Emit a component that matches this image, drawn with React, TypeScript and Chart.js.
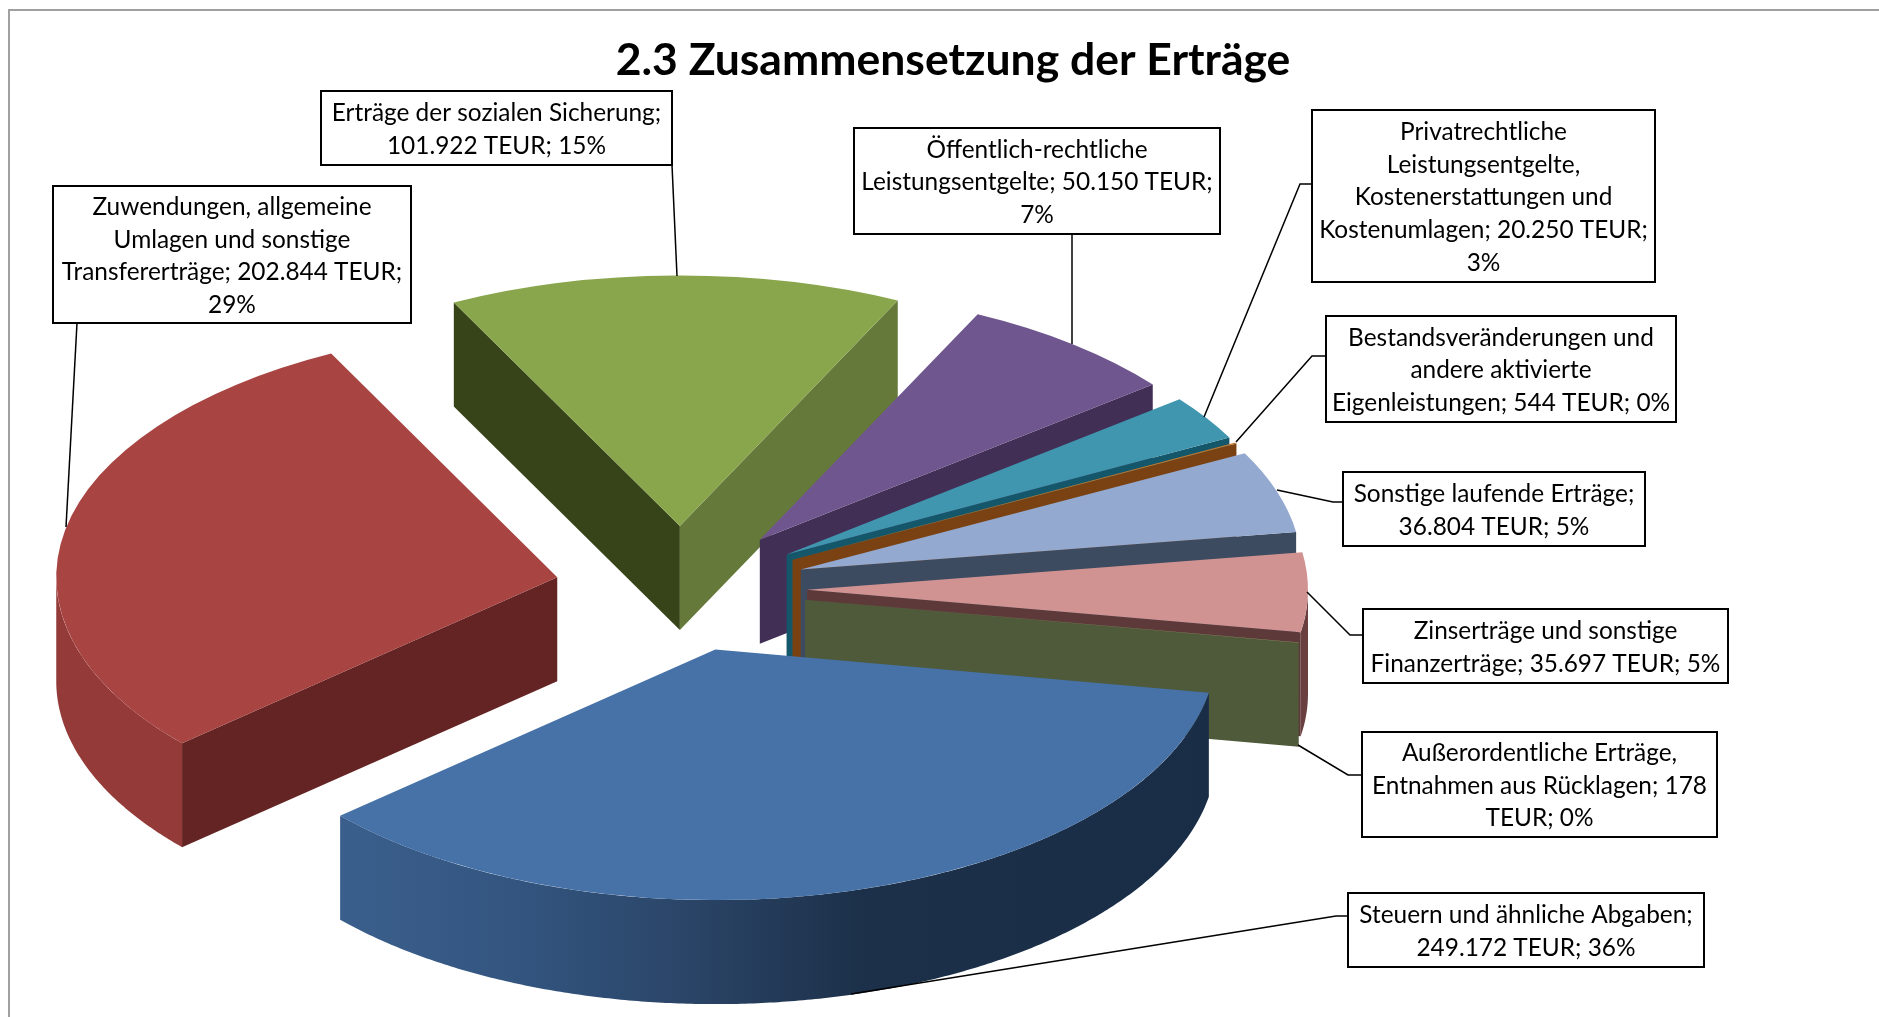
import React, { useEffect, useRef } from "react";
import { Chart, registerables } from "chart.js";

Chart.register(...registerables);

const TITLE = "2.3 Zusammensetzung der Erträge";
const categories = [
  "Steuern und ähnliche Abgaben",
  "Zuwendungen, allgemeine Umlagen und sonstige Transfererträge",
  "Erträge der sozialen Sicherung",
  "Öffentlich-rechtliche Leistungsentgelte",
  "Privatrechtliche Leistungsentgelte, Kostenerstattungen und Kostenumlagen",
  "Bestandsveränderungen und andere aktivierte Eigenleistungen",
  "Sonstige laufende Erträge",
  "Zinserträge und sonstige Finanzerträge",
  "Außerordentliche Erträge, Entnahmen aus Rücklagen",
];
const valuesTEUR = [249172, 202844, 101922, 50150, 20250, 544, 36804, 35697, 178];
const labelLines = [
  ["Steuern und ähnliche Abgaben;", "249.172 TEUR; 36%"],
  ["Zuwendungen, allgemeine", "Umlagen und sonstige", "Transfererträge; 202.844 TEUR;", "29%"],
  ["Erträge der sozialen Sicherung;", "101.922 TEUR; 15%"],
  ["Öffentlich-rechtliche", "Leistungsentgelte; 50.150 TEUR;", "7%"],
  ["Privatrechtliche", "Leistungsentgelte,", "Kostenerstattungen und", "Kostenumlagen; 20.250 TEUR;", "3%"],
  ["Bestandsveränderungen und", "andere aktivierte", "Eigenleistungen; 544 TEUR; 0%"],
  ["Sonstige laufende Erträge;", "36.804 TEUR; 5%"],
  ["Zinserträge und sonstige", "Finanzerträge; 35.697 TEUR; 5%"],
  ["Außerordentliche Erträge,", "Entnahmen aus Rücklagen; 178", "TEUR; 0%"],
];

const topColors = ["#4672a8", "#a84442", "#8aa64d", "#70568e", "#4095af", "#c07a30", "#93a9cf", "#d09392", "#a9c47f"];
const faceColors = ["#1a2d47", "#632423", "#374419", "#422f56", "#14566a", "#7a4213", "#3c4b60", "#5d3939", "#4e5a3a"];
const faceColorsRight: Record<number, string> = { 2: "#64793a" };
const wallStops: [number, string][][] = [
  [[0, "#3b5f8c"], [0.2, "#335580"], [0.41, "#2a4466"], [0.6, "#1c3049"], [1, "#1a2d47"]],
  [[0, "#943b39"], [1, "#943b39"]],
  [[0, "#64793a"], [1, "#64793a"]],
  [[0, "#422f56"], [1, "#422f56"]],
  [[0, "#14566a"], [1, "#14566a"]],
  [[0, "#7a4213"], [1, "#7a4213"]],
  [[0, "#3c4b60"], [1, "#3c4b60"]],
  [[0, "#6a3f3f"], [1, "#6a3f3f"]],
  [[0, "#5d3939"], [1, "#5d3939"]],
];

// layout of the tilted exploded pie
const PIE = { cx: 681, cy: 589, radius: 501, tilt: 0.5, depth: 104, explode: 126, firstAngle: 99.9 };
const paintOrder = [2, 3, 4, 5, 6, 7, 8, 1, 0];

// label boxes: x, y, w, h and leader line points
const boxes = [
  { x: 1348, y: 893, w: 356, h: 74, leader: [[1348, 916], [1336, 916], [851, 994]] },
  { x: 53, y: 186, w: 358, h: 137, leader: [[77, 323], [66, 527]] },
  { x: 321, y: 91, w: 351, h: 74, leader: [[672, 165], [677, 276]] },
  { x: 854, y: 128, w: 366, h: 106, leader: [[1072, 234], [1072, 344]] },
  { x: 1312, y: 110, w: 343, h: 172, leader: [[1312, 184], [1300, 184], [1204, 417]] },
  { x: 1326, y: 316, w: 350, h: 106, leader: [[1326, 356], [1312, 356], [1236, 442]] },
  { x: 1343, y: 472, w: 302, h: 74, leader: [[1343, 502], [1333, 502], [1277, 490]] },
  { x: 1363, y: 609, w: 365, h: 74, leader: [[1363, 635], [1350, 635], [1307, 592]] },
  { x: 1362, y: 732, w: 355, h: 105, leader: [[1362, 775], [1348, 775], [1298, 745]] },
];
const LABEL_FONT = "24.4px Lato";
const LINE_HEIGHT = 32.6;
const LABEL_SHIFT = 1.5;

function slicePoint(ax: number, ay: number, angle: number, dy = 0): [number, number] {
  return [ax + PIE.radius * Math.cos(angle), ay + PIE.radius * PIE.tilt * Math.sin(angle) + dy];
}

function fillFace(ctx: CanvasRenderingContext2D, ax: number, ay: number, angle: number, color: string) {
  const [rx, ry] = slicePoint(ax, ay, angle);
  ctx.beginPath();
  ctx.moveTo(ax, ay);
  ctx.lineTo(rx, ry);
  ctx.lineTo(rx, ry + PIE.depth);
  ctx.lineTo(ax, ay + PIE.depth);
  ctx.closePath();
  ctx.fillStyle = color;
  ctx.fill();
}

function fillWall(ctx: CanvasRenderingContext2D, ax: number, ay: number, a0: number, a1: number, stops: [number, string][]) {
  const steps = Math.max(4, Math.ceil((a1 - a0) * 120));
  const pts: [number, number][] = [];
  for (let s = 0; s <= steps; s++) pts.push(slicePoint(ax, ay, a0 + ((a1 - a0) * s) / steps));
  const xs = pts.map((p) => p[0]);
  const x0 = Math.min(...xs);
  const x1 = Math.max(...xs);
  const g = ctx.createLinearGradient(x0, 0, x1 === x0 ? x0 + 1 : x1, 0);
  stops.forEach(([o, c]) => g.addColorStop(o, c));
  ctx.beginPath();
  pts.forEach((p, i) => (i ? ctx.lineTo(p[0], p[1]) : ctx.moveTo(p[0], p[1])));
  for (let i = pts.length - 1; i >= 0; i--) ctx.lineTo(pts[i][0], pts[i][1] + PIE.depth);
  ctx.closePath();
  ctx.fillStyle = g;
  ctx.fill();
}

const pie3d = {
  id: "pie3d",
  beforeDraw(chart: any) {
    const { ctx, width } = chart;
    ctx.save();
    ctx.fillStyle = "#ffffff";
    ctx.fillRect(0, 0, width, chart.height);
    ctx.strokeStyle = "#a0a0a0";
    ctx.lineWidth = 2;
    ctx.beginPath();
    ctx.moveTo(9, chart.height + 2);
    ctx.lineTo(9, 10);
    ctx.lineTo(width + 2, 10);
    ctx.stroke();
    ctx.restore();
  },
  beforeDatasetDraw(chart: any) {
    const { ctx } = chart;
    const arcs = chart.getDatasetMeta(0).data;
    paintOrder.forEach((i) => {
      const arc = arcs[i];
      const start = arc.startAngle;
      const end = arc.endAngle;
      const mid = (start + end) / 2;
      const ax = PIE.cx + PIE.explode * Math.cos(mid);
      const ay = PIE.cy + PIE.explode * PIE.tilt * Math.sin(mid);
      // visible outer wall: the part of the rim facing the viewer
      const TAU = Math.PI * 2;
      for (let k = -1; k <= 1; k++) {
        const a0 = Math.max(start, k * TAU);
        const a1 = Math.min(end, k * TAU + Math.PI);
        if (a1 > a0) fillWall(ctx, ax, ay, a0, a1, wallStops[i]);
      }
      if (Math.cos(start) < 0) fillFace(ctx, ax, ay, start, faceColors[i]);
      if (Math.cos(end) > 0) fillFace(ctx, ax, ay, end, faceColorsRight[i] || faceColors[i]);
      ctx.save();
      ctx.translate(ax, ay);
      ctx.scale(1, PIE.tilt);
      ctx.translate(-arc.x, -arc.y);
      arc.draw(ctx);
      ctx.restore();
    });
    return false;
  },
  afterDraw(chart: any) {
    const { ctx } = chart;
    ctx.save();
    boxes.forEach((b, i) => {
      ctx.strokeStyle = "#000000";
      ctx.lineWidth = 1.5;
      ctx.beginPath();
      b.leader.forEach((p, k) => (k ? ctx.lineTo(p[0], p[1]) : ctx.moveTo(p[0], p[1])));
      ctx.stroke();
      ctx.fillStyle = "#ffffff";
      ctx.fillRect(b.x, b.y, b.w, b.h);
      ctx.lineWidth = 2;
      ctx.strokeRect(b.x, b.y, b.w, b.h);
      ctx.fillStyle = "#000000";
      ctx.font = LABEL_FONT;
      ctx.textAlign = "center";
      ctx.textBaseline = "middle";
      const lines = labelLines[i];
      const y0 = b.y + b.h / 2 - ((lines.length - 1) * LINE_HEIGHT) / 2 + LABEL_SHIFT;
      lines.forEach((t, k) => ctx.fillText(t, b.x + b.w / 2, y0 + k * LINE_HEIGHT));
    });
    ctx.restore();
  },
};

export default function App() {
  const ref = useRef<HTMLCanvasElement | null>(null);
  useEffect(() => {
    const chart = new Chart(ref.current as HTMLCanvasElement, {
      type: "pie",
      data: {
        labels: categories,
        datasets: [{ data: valuesTEUR, backgroundColor: topColors, borderWidth: 0 }],
      },
      options: {
        responsive: false,
        animation: false,
        rotation: PIE.firstAngle,
        radius: PIE.radius,
        layout: { padding: { left: 27 } },
        plugins: {
          legend: { display: false },
          tooltip: { enabled: false },
          title: {
            display: true,
            text: TITLE,
            color: "#000000",
            font: { family: "Lato", size: 44.5, weight: "bold" },
            padding: { top: 34, bottom: 0 },
          },
        },
      },
      plugins: [pie3d],
    } as any);
    return () => chart.destroy();
  }, []);
  return (
    <div style={{ position: "fixed", left: 0, top: 0, width: 1879, height: 1017, overflow: "hidden" }}>
      <canvas ref={ref} width={1879} height={1017} style={{ display: "block" }} />
    </div>
  );
}
